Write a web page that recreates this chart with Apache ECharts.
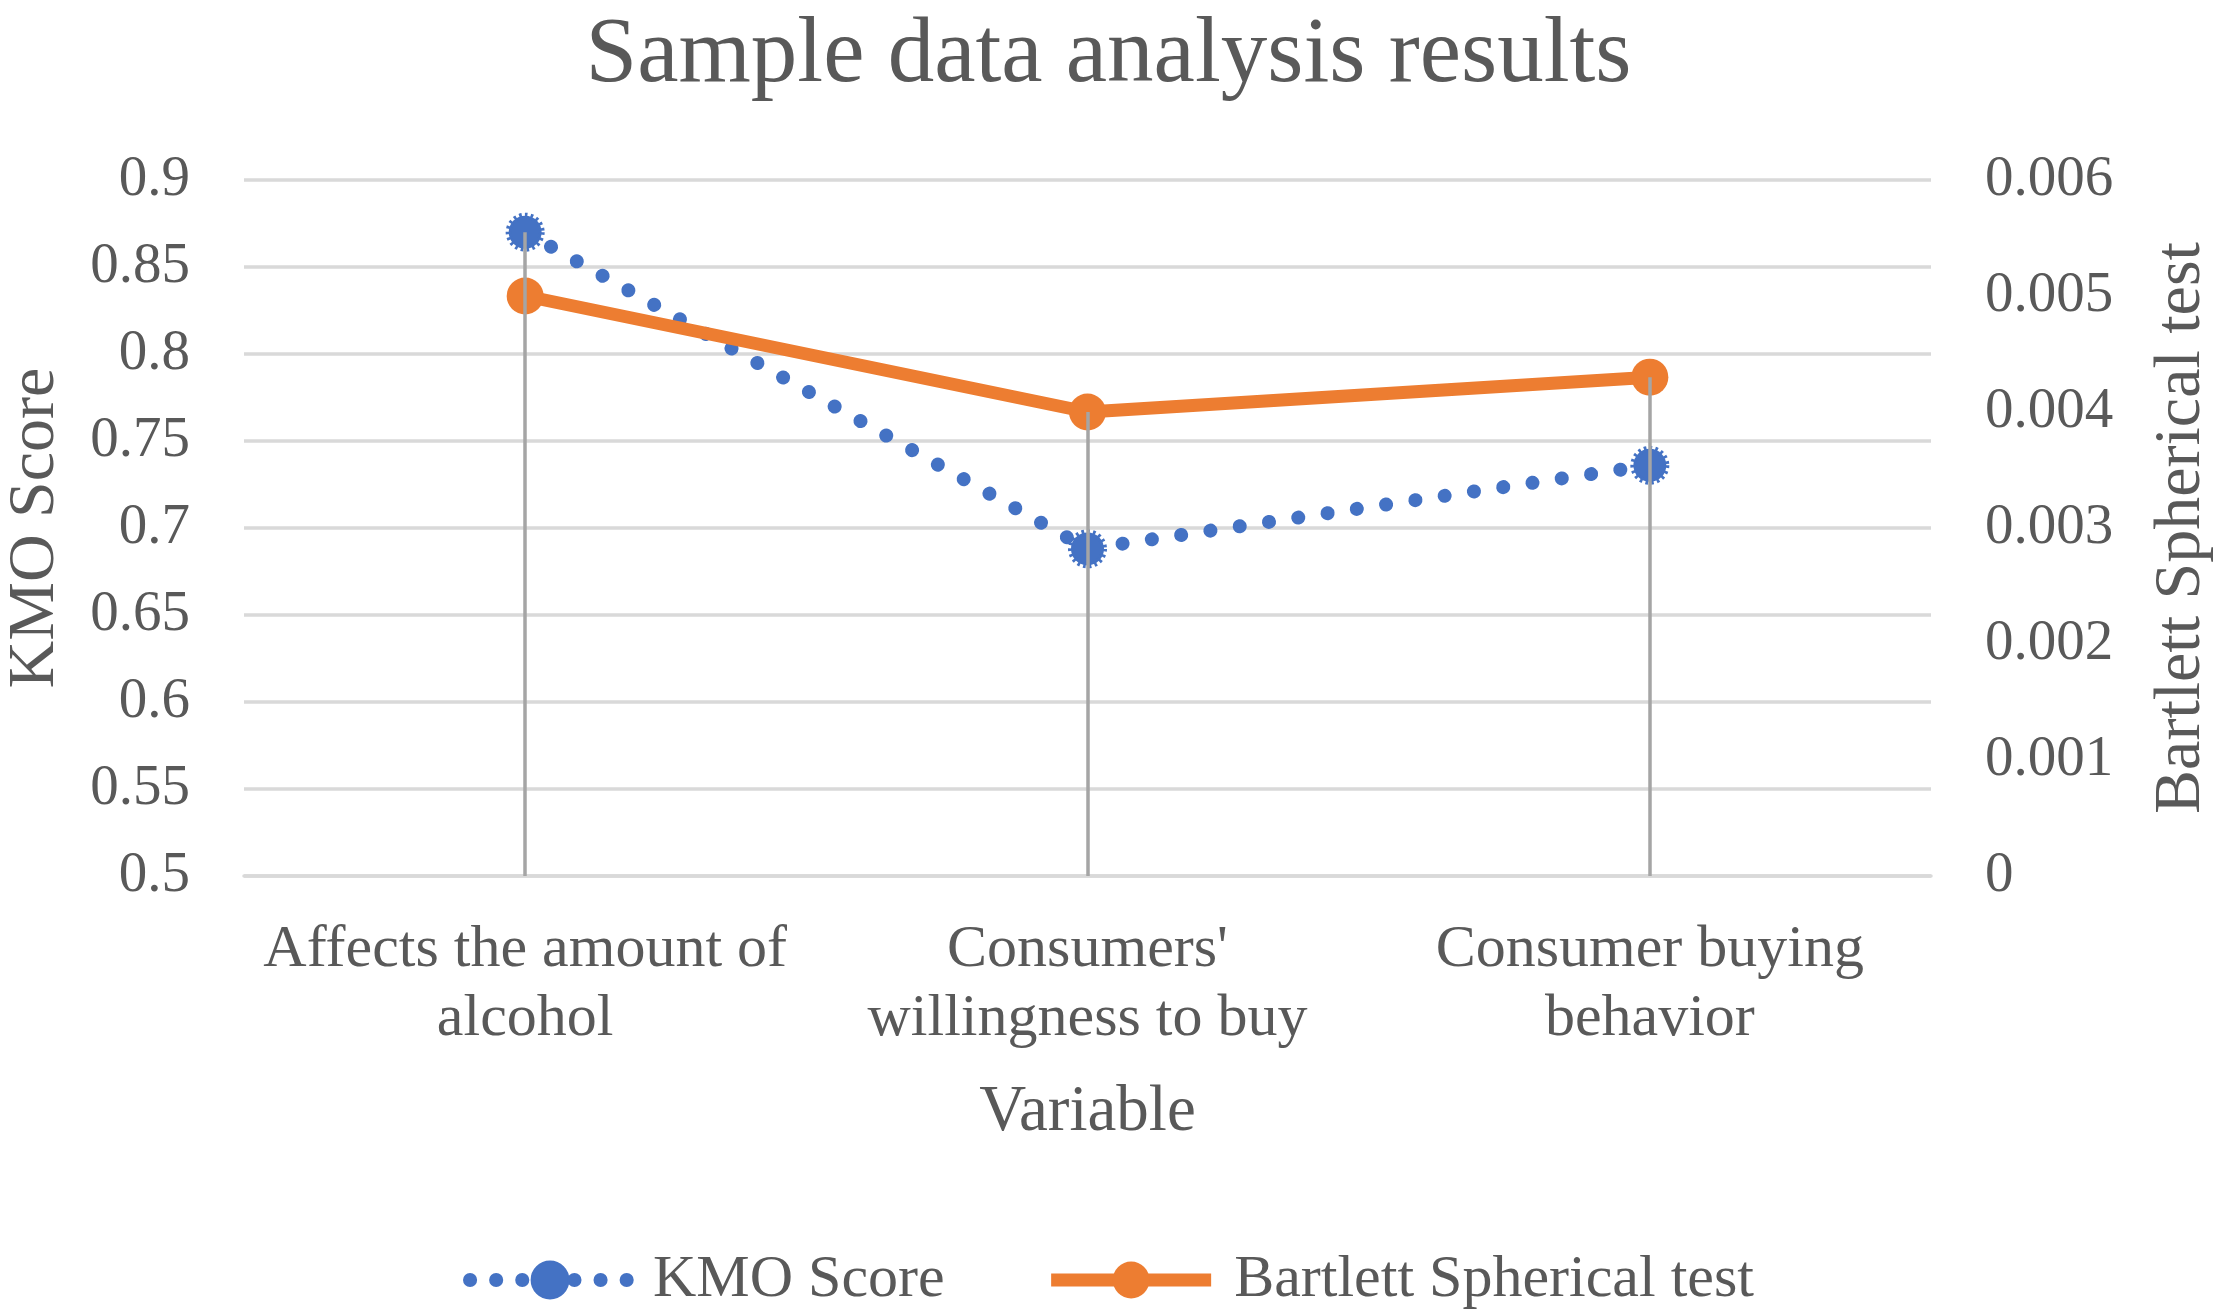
<!DOCTYPE html>
<html>
<head>
<meta charset="utf-8">
<script src="https://cdn.jsdelivr.net/npm/echarts@6/dist/echarts.min.js"></script>
<style>
html,body{margin:0;padding:0;background:#fff;}
#chart{width:2217px;height:1315px;}
</style>
</head>
<body>
<div id="chart"></div>
<script>
// ---- data ----
var categories = ['Affects the amount of\nalcohol', "Consumers'\nwillingness to buy", 'Consumer buying\nbehavior'];
var kmoScore = [0.87, 0.688, 0.736];
var bartlettTest = [0.005, 0.004, 0.0043];
var kmoAxis = {min: 0.5, max: 0.9, interval: 0.05};
var bartAxis = {min: 0, max: 0.006, interval: 0.001};
var seriesNames = ['KMO Score', 'Bartlett Spherical test'];

// ---- styles ----
var FONT = 'Liberation Serif';
var TXT = '#595959';
var BLUE = '#4472C4';
var ORANGE = '#ED7D31';
var DROP = '#A5A5A5';
var GRID = '#D9D9D9';

// drop lines: from the higher of the two points at each category down to the axis
var kmoDrops = [], bartDrops = [];
categories.forEach(function (c, i) {
  var fk = (kmoScore[i] - kmoAxis.min) / (kmoAxis.max - kmoAxis.min);
  var fb = (bartlettTest[i] - bartAxis.min) / (bartAxis.max - bartAxis.min);
  if (fk >= fb) {
    kmoDrops.push([{coord: [i, kmoScore[i]]}, {coord: [i, kmoAxis.min]}]);
  } else {
    bartDrops.push([{coord: [i, bartlettTest[i]]}, {coord: [i, bartAxis.min]}]);
  }
});

var dropStyle = {
  silent: true,
  symbol: ['none', 'none'],
  label: {show: false},
  lineStyle: {color: DROP, width: 3.5, type: 'solid'},
  emphasis: {disabled: true},
  animation: false
};

var chart = echarts.init(document.getElementById('chart'));
chart.setOption({
  animation: false,
  backgroundColor: '#fff',
  title: {
    text: 'Sample data analysis results',
    left: 'center',
    top: 5,
    textStyle: {fontFamily: FONT, fontSize: 93, fontWeight: 'normal', color: TXT}
  },
  legend: {
    bottom: 0,
    left: 'center',
    itemWidth: 160,
    itemHeight: 46,
    itemGap: 100,
    textStyle: {fontFamily: FONT, fontSize: 60, color: TXT, padding: [0, 0, 0, 18]},
    data: [
      {name: seriesNames[0], lineStyle: {width: 14, type: [0.1, 26], cap: 'round', color: BLUE}},
      {name: seriesNames[1], lineStyle: {width: 13, type: 'solid', color: ORANGE}}
    ]
  },
  grid: {left: 244, right: 286, top: 180, bottom: 439, containLabel: false, outerBoundsMode: 'none'},
  xAxis: {
    type: 'category',
    data: categories,
    boundaryGap: true,
    name: 'Variable',
    nameLocation: 'middle',
    nameGap: 204,
    nameTextStyle: {fontFamily: FONT, fontSize: 65, color: TXT},
    axisLine: {show: true, lineStyle: {color: GRID, width: 3.5}},
    axisTick: {show: false},
    axisLabel: {fontFamily: FONT, fontSize: 60, color: TXT, margin: 40, lineHeight: 69, interval: 0}
  },
  yAxis: [
    {
      type: 'value',
      min: kmoAxis.min, max: kmoAxis.max, interval: kmoAxis.interval,
      name: seriesNames[0],
      nameLocation: 'middle',
      nameGap: 175,
      nameTextStyle: {fontFamily: FONT, fontSize: 66, color: TXT},
      axisLine: {show: false},
      axisTick: {show: false},
      axisLabel: {fontFamily: FONT, fontSize: 57, color: TXT, margin: 54},
      splitLine: {show: true, lineStyle: {color: GRID, width: 3.5}}
    },
    {
      type: 'value',
      position: 'right',
      min: bartAxis.min, max: bartAxis.max, interval: bartAxis.interval,
      name: seriesNames[1],
      nameLocation: 'middle',
      nameGap: 218,
      nameTextStyle: {fontFamily: FONT, fontSize: 66, color: TXT},
      axisLine: {show: false},
      axisTick: {show: false},
      axisLabel: {fontFamily: FONT, fontSize: 57, color: TXT, margin: 54},
      splitLine: {show: false}
    }
  ],
  series: [
    {
      name: seriesNames[0],
      type: 'line',
      yAxisIndex: 0,
      data: kmoScore,
      symbol: 'circle',
      symbolSize: 33,
      lineStyle: {color: BLUE, width: 14, type: [0.1, 29.5], cap: 'round'},
      itemStyle: {color: BLUE, borderColor: BLUE, borderWidth: 6, borderType: [2.5, 3]},
      emphasis: {disabled: true},
      z: 3,
      markLine: Object.assign({data: kmoDrops}, dropStyle)
    },
    {
      name: seriesNames[1],
      type: 'line',
      yAxisIndex: 1,
      data: bartlettTest,
      symbol: 'circle',
      symbolSize: 37,
      lineStyle: {color: ORANGE, width: 13, type: 'solid'},
      itemStyle: {color: ORANGE, borderWidth: 0},
      emphasis: {disabled: true},
      z: 4,
      markLine: Object.assign({data: bartDrops}, dropStyle)
    }
  ]
});
</script>
</body>
</html>
